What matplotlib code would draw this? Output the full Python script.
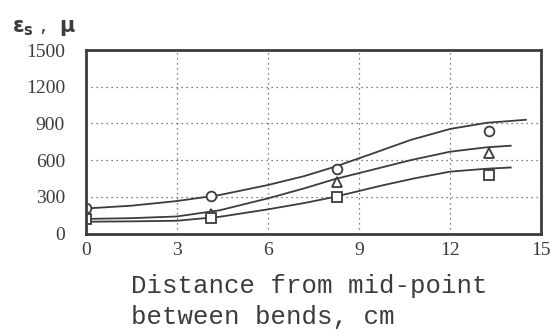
import matplotlib
matplotlib.use('Agg')
import matplotlib.pyplot as plt

# measured points
pt_x = [0, 4.12, 8.26, 13.27]
circle_y = [206, 309, 525, 841]
triangle_y = [140, 157, 424, 656]
square_y = [116, 124, 301, 479]

# fitted curves
top_x = [0, 1.5, 3, 4.4, 6, 7.2, 8.2, 9.4, 10.7, 12, 13.2, 14.5]
top_y = [205, 228, 266, 315, 397, 470, 546, 650, 765, 855, 905, 930]
mid_x = [0, 1.5, 3, 4.4, 6, 7.2, 8.2, 9.4, 10.7, 12, 13.2, 14.0]
mid_y = [120, 126, 140, 190, 288, 370, 445, 519, 600, 669, 705, 718]
low_x = [0, 1.5, 3, 4.4, 6, 7.2, 8.2, 9.7, 10.8, 12, 13.2, 14.0]
low_y = [97, 100, 105, 137, 198, 250, 300, 390, 450, 506, 530, 540]

x_ticks = [0, 3, 6, 9, 12, 15]
y_ticks = [0, 300, 600, 900, 1200, 1500]

ink = '#3c3c3c'

fig = plt.figure(figsize=(5.51, 3.29), dpi=100)
ax = fig.add_axes([0.156, 0.290, 0.826, 0.558])

ax.plot(top_x, top_y, color=ink, lw=1.3)
ax.plot(mid_x, mid_y, color=ink, lw=1.3)
ax.plot(low_x, low_y, color=ink, lw=1.3)

mk = dict(linestyle='none', markerfacecolor='white', markeredgecolor=ink,
          markeredgewidth=1.3, markersize=7)
ax.plot(pt_x, triangle_y, marker='^', **mk)
ax.plot(pt_x, square_y, marker='s', **mk)
ax.plot(pt_x, circle_y, marker='o', **mk)

ax.set_xlim(0, 15)
ax.set_ylim(0, 1500)
ax.set_xticks(x_ticks)
ax.set_yticks(y_ticks)
ax.grid(True, linestyle=(0, (1, 3)), color='#555555', linewidth=0.9)
ax.tick_params(length=0, labelsize=14, colors=ink)
ax.tick_params(axis='x', pad=6)
ax.tick_params(axis='y', pad=15)
for lab in ax.get_xticklabels() + ax.get_yticklabels():
    lab.set_family('Liberation Serif')
for s in ax.spines.values():
    s.set_linewidth(2)
    s.set_color(ink)

fig.text(0.022, 0.915, r'$\mathbf{\epsilon_s}$ ,  $\mathbf{\mu}$',
         fontsize=15, color=ink, ha='left', va='center')

fig.text(0.238, 0.168, 'Distance from mid-point\nbetween bends, cm',
         family='Liberation Mono', fontsize=18.5, color=ink,
         ha='left', va='top', linespacing=1.38)

fig.savefig('out.png', dpi=100)
